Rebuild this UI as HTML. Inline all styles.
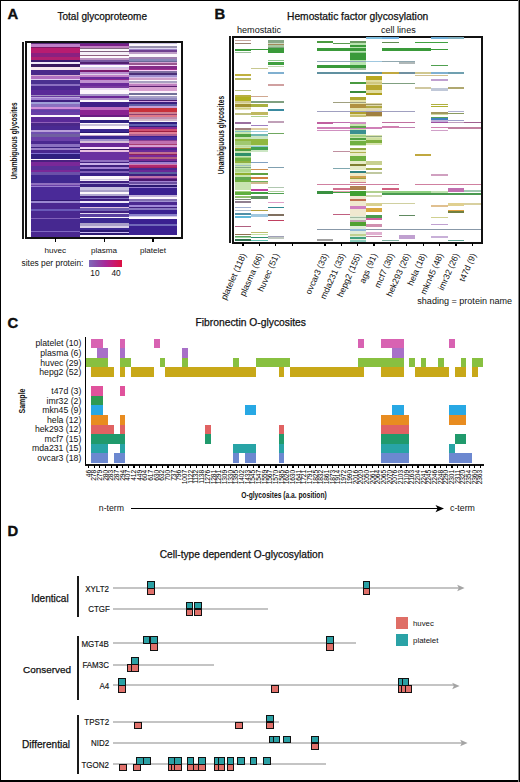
<!DOCTYPE html>
<html><head><meta charset="utf-8"><style>
html,body{margin:0;padding:0;background:#fff;}
#pg{position:relative;width:520px;height:782px;overflow:hidden;background:#fff;font-family:"Liberation Sans", sans-serif;color:#111;}
#frame{position:absolute;left:0;top:0;width:520px;height:782px;box-sizing:border-box;border-style:solid;border-color:#000;border-width:1px 1px 2px 1px;}
.t{position:absolute;white-space:nowrap;line-height:1;font-family:"Liberation Sans", sans-serif;}
.k{-webkit-text-stroke:0.25px #111;}
.b{font-weight:bold;-webkit-text-stroke:0.35px #000;}
.r{position:absolute;}
.rl{transform-origin:0 0;transform:rotate(-66deg) translate(-100%,0);}
.vl{transform-origin:0 0;transform:rotate(-90deg) translate(-100%,-50%);letter-spacing:-0.15px;color:#000;}
</style></head><body><div id="pg">
<div class="t b" style="left:7.6px;top:6.6px;font-size:14.8px;">A</div>
<div class="t k" style="left:57.5px;top:12.04px;font-size:10px;">Total glycoproteome</div>
<div class="r" style="left:22.00px;top:42.00px;width:2.00px;height:197.00px;background:#1a1a1a;"></div>
<div class="r" style="left:25.00px;top:41.00px;width:158.00px;height:198.00px;background:transparent;border:2px solid #111;box-sizing:border-box;"></div>
<div class="r" style="left:31px;top:43px;width:49.00px;height:194px;background:linear-gradient(to bottom,#5a2a7a 0.00%,#5a2a7a 0.77%,#c080c8 0.77%,#c080c8 2.06%,#801868 2.06%,#801868 2.73%,#b81c70 2.73%,#b81c70 5.41%,#8a2080 5.41%,#8a2080 7.01%,#b02070 7.01%,#b02070 8.61%,#3a1a70 8.61%,#3a1a70 9.69%,#f0e8f8 9.69%,#f0e8f8 10.82%,#3a1a60 10.82%,#3a1a60 12.16%,#f8e8f0 12.16%,#f8e8f0 13.81%,#4a2a8a 13.81%,#4a2a8a 16.29%,#d8b0d0 16.29%,#d8b0d0 16.96%,#b070c0 16.96%,#b070c0 18.45%,#e0d0f0 18.45%,#e0d0f0 19.07%,#4a3090 19.07%,#4a3090 20.88%,#8a70c0 20.88%,#8a70c0 22.16%,#4a2890 22.16%,#4a2890 24.23%,#5a2a98 24.23%,#5a2a98 26.55%,#a090c0 26.55%,#a090c0 27.22%,#6a3aa0 27.22%,#6a3aa0 27.84%,#c0a8e0 27.84%,#c0a8e0 28.35%,#a080d0 28.35%,#a080d0 29.18%,#402080 29.18%,#402080 30.67%,#a0a0d8 30.67%,#a0a0d8 31.44%,#8a70c0 31.44%,#8a70c0 32.78%,#d090d8 32.78%,#d090d8 33.97%,#7a40a8 33.97%,#7a40a8 34.43%,#6040a8 34.43%,#6040a8 35.41%,#6a40a8 35.41%,#6a40a8 37.11%,#fcf8fc 37.11%,#fcf8fc 38.09%,#5a2a98 38.09%,#5a2a98 40.72%,#9060b8 40.72%,#9060b8 41.34%,#4a2888 41.34%,#4a2888 42.68%,#4a2a92 42.68%,#4a2a92 44.64%,#b8a0d8 44.64%,#b8a0d8 45.67%,#7050b0 45.67%,#7050b0 46.96%,#7060a0 46.96%,#7060a0 48.30%,#6a40a8 48.30%,#6a40a8 50.31%,#4a2890 50.31%,#4a2890 51.96%,#8a70c0 51.96%,#8a70c0 53.61%,#3a2080 53.61%,#3a2080 54.23%,#9a80c8 54.23%,#9a80c8 55.05%,#4a2890 55.05%,#4a2890 56.55%,#8070d0 56.55%,#8070d0 57.22%,#302080 57.22%,#302080 59.54%,#fcf8fc 59.54%,#fcf8fc 60.31%,#4a2080 60.31%,#4a2080 61.34%,#7a2898 61.34%,#7a2898 63.45%,#5a3098 63.45%,#5a3098 65.46%,#7a2898 65.46%,#7a2898 66.75%,#6a50a8 66.75%,#6a50a8 68.09%,#402890 68.09%,#402890 72.06%,#9070c0 72.06%,#9070c0 73.35%,#6a40a8 73.35%,#6a40a8 73.81%,#9a80d0 73.81%,#9a80d0 74.33%,#4a2a98 74.33%,#4a2a98 81.08%,#301870 81.08%,#301870 81.44%,#9a88d0 81.44%,#9a88d0 82.47%,#4a2890 82.47%,#4a2890 85.36%,#6a5ab8 85.36%,#6a5ab8 86.60%,#4a2890 86.60%,#4a2890 90.21%,#8060b8 90.21%,#8060b8 90.82%,#462890 90.82%,#462890 96.65%,#8068c0 96.65%,#8068c0 97.68%,#4a2890 97.68%,#4a2890 100.00%);"></div>
<div class="r" style="left:80px;top:43px;width:49.00px;height:194px;background:linear-gradient(to bottom,#5a2a80 0.00%,#5a2a80 0.57%,#7a2088 0.57%,#7a2088 1.55%,#c080c0 1.55%,#c080c0 2.47%,#806880 2.47%,#806880 3.04%,#fcf8fc 3.04%,#fcf8fc 4.02%,#806080 4.02%,#806080 4.64%,#f4eef8 4.64%,#f4eef8 6.03%,#906080 6.03%,#906080 6.60%,#fcf8fc 6.60%,#fcf8fc 7.84%,#b890c0 7.84%,#b890c0 8.81%,#7a5aa0 8.81%,#7a5aa0 9.79%,#502070 9.79%,#502070 10.57%,#a070c0 10.57%,#a070c0 11.19%,#fcf8fc 11.19%,#fcf8fc 12.16%,#d0c8e8 12.16%,#d0c8e8 12.68%,#9090b8 12.68%,#9090b8 13.14%,#e0c0e0 13.14%,#e0c0e0 13.87%,#7a1a70 13.87%,#7a1a70 15.15%,#b890d0 15.15%,#b890d0 15.98%,#e0d0e8 15.98%,#e0d0e8 16.60%,#c080c8 16.60%,#c080c8 17.27%,#6a2a9a 17.27%,#6a2a9a 18.56%,#8a2a90 18.56%,#8a2a90 19.28%,#c090d0 19.28%,#c090d0 20.62%,#6a2a9a 20.62%,#6a2a9a 22.16%,#7a3aa0 22.16%,#7a3aa0 23.20%,#e8d8f0 23.20%,#e8d8f0 24.02%,#fcf8fc 24.02%,#fcf8fc 26.39%,#a898c8 26.39%,#a898c8 27.37%,#6a2898 27.37%,#6a2898 28.35%,#b090c8 28.35%,#b090c8 29.18%,#fcf8fc 29.18%,#fcf8fc 30.31%,#402088 30.31%,#402088 32.78%,#c070c0 32.78%,#c070c0 34.43%,#8a2090 34.43%,#8a2090 37.11%,#6a1a80 37.11%,#6a1a80 38.40%,#fcf8fc 38.40%,#fcf8fc 39.69%,#302080 39.69%,#302080 41.03%,#fcf8fc 41.03%,#fcf8fc 41.70%,#c8c0d8 41.70%,#c8c0d8 42.68%,#fcf8fc 42.68%,#fcf8fc 44.18%,#3a2890 44.18%,#3a2890 45.67%,#2a1870 45.67%,#2a1870 46.29%,#fcf8fc 46.29%,#fcf8fc 47.32%,#c0a0c8 47.32%,#c0a0c8 47.94%,#3a2890 47.94%,#3a2890 49.64%,#a090c8 49.64%,#a090c8 50.62%,#d8c0d8 50.62%,#d8c0d8 51.29%,#6a2898 51.29%,#6a2898 53.61%,#f8e0f8 53.61%,#f8e0f8 54.74%,#3a1a60 54.74%,#3a1a60 55.21%,#e8c0e0 55.21%,#e8c0e0 56.19%,#6a30a0 56.19%,#6a30a0 60.15%,#9070c0 60.15%,#9070c0 61.19%,#402080 61.19%,#402080 62.01%,#c8b0e8 62.01%,#c8b0e8 62.84%,#402080 62.84%,#402080 63.81%,#a080d0 63.81%,#a080d0 65.10%,#3a2080 65.10%,#3a2080 66.08%,#8060b8 66.08%,#8060b8 67.11%,#3a2088 67.11%,#3a2088 68.40%,#fcf8fc 68.40%,#fcf8fc 70.05%,#d0c8e0 70.05%,#d0c8e0 70.72%,#f0e8f8 70.72%,#f0e8f8 71.39%,#402080 71.39%,#402080 72.06%,#a090d0 72.06%,#a090d0 72.68%,#3a2080 72.68%,#3a2080 74.38%,#c8c0e0 74.38%,#c8c0e0 75.93%,#a8a0c8 75.93%,#a8a0c8 76.96%,#fcf8fc 76.96%,#fcf8fc 77.84%,#b0a8d0 77.84%,#b0a8d0 78.87%,#402080 78.87%,#402080 79.69%,#8070c0 79.69%,#8070c0 80.57%,#402080 80.57%,#402080 81.60%,#f0e8fa 81.60%,#f0e8fa 82.47%,#3a2090 82.47%,#3a2090 84.33%,#e0c0e0 84.33%,#e0c0e0 85.05%,#7060b0 85.05%,#7060b0 86.75%,#402080 86.75%,#402080 87.63%,#e0d8f0 87.63%,#e0d8f0 88.14%,#5a40a0 88.14%,#5a40a0 89.48%,#fcf8fc 89.48%,#fcf8fc 90.00%,#3a2890 90.00%,#3a2890 92.58%,#a8a0c8 92.58%,#a8a0c8 94.28%,#d8d0e8 94.28%,#d8d0e8 95.15%,#3a2890 95.15%,#3a2890 96.34%,#2a1870 96.34%,#2a1870 97.37%,#c8b8f0 97.37%,#c8b8f0 98.04%,#2a1870 98.04%,#2a1870 99.07%,#fcf8fc 99.07%,#fcf8fc 100.00%);"></div>
<div class="r" style="left:129px;top:43px;width:48.40px;height:194px;background:linear-gradient(to bottom,#c8c0e0 0.00%,#c8c0e0 0.36%,#fcf8fc 0.36%,#fcf8fc 1.65%,#9890b0 1.65%,#9890b0 2.47%,#e0d8f0 2.47%,#e0d8f0 3.14%,#a088c8 3.14%,#a088c8 3.76%,#704090 3.76%,#704090 4.85%,#c0a0c8 4.85%,#c0a0c8 5.82%,#fcf8fc 5.82%,#fcf8fc 7.42%,#a080b0 7.42%,#a080b0 8.20%,#8888b8 8.20%,#8888b8 9.38%,#6a6a98 9.38%,#6a6a98 9.79%,#d0a0d0 9.79%,#d0a0d0 10.46%,#985890 10.46%,#985890 11.19%,#f8d8f8 11.19%,#f8d8f8 11.75%,#842a88 11.75%,#842a88 13.35%,#a03090 13.35%,#a03090 13.97%,#f8d0f8 13.97%,#f8d0f8 14.64%,#8070a0 14.64%,#8070a0 15.62%,#4a3078 15.62%,#4a3078 16.29%,#a090d0 16.29%,#a090d0 17.27%,#d8c0e8 17.27%,#d8c0e8 17.94%,#d0a0c8 17.94%,#d0a0c8 18.92%,#fcf8fc 18.92%,#fcf8fc 19.59%,#a8a0c0 19.59%,#a8a0c0 20.57%,#e0c0e0 20.57%,#e0c0e0 21.24%,#c080c0 21.24%,#c080c0 22.22%,#5a2070 22.22%,#5a2070 22.89%,#d8a0d0 22.89%,#d8a0d0 24.54%,#fbf0fb 24.54%,#fbf0fb 25.72%,#707098 25.72%,#707098 27.01%,#fcf8fc 27.01%,#fcf8fc 27.53%,#a8a0c8 27.53%,#a8a0c8 28.20%,#9088c0 28.20%,#9088c0 29.18%,#4a1a70 29.18%,#4a1a70 29.85%,#d0a0e0 29.85%,#d0a0e0 30.67%,#3a2080 30.67%,#3a2080 31.29%,#6060a8 31.29%,#6060a8 32.47%,#c8a0d8 32.47%,#c8a0d8 33.30%,#8a3080 33.30%,#8a3080 33.76%,#c8303a 33.76%,#c8303a 35.77%,#d08090 35.77%,#d08090 36.44%,#904070 36.44%,#904070 36.91%,#e07888 36.91%,#e07888 38.40%,#c090b0 38.40%,#c090b0 39.07%,#d0b8c8 39.07%,#d0b8c8 40.05%,#fcf8fc 40.05%,#fcf8fc 40.72%,#302080 40.72%,#302080 41.70%,#6060b0 41.70%,#6060b0 42.68%,#302080 42.68%,#302080 43.35%,#8a2890 43.35%,#8a2890 44.33%,#d05070 44.33%,#d05070 45.31%,#a02040 45.31%,#a02040 45.98%,#e08098 45.98%,#e08098 46.96%,#b06090 46.96%,#b06090 47.78%,#3a2090 47.78%,#3a2090 48.61%,#4a30a0 48.61%,#4a30a0 50.00%,#8a4090 50.00%,#8a4090 50.77%,#c070b0 50.77%,#c070b0 51.96%,#a84070 51.96%,#a84070 52.78%,#d8a0d0 52.78%,#d8a0d0 53.40%,#8a2890 53.40%,#8a2890 54.38%,#4a2890 54.38%,#4a2890 55.41%,#6a2898 55.41%,#6a2898 56.39%,#c07090 56.39%,#c07090 57.22%,#902060 57.22%,#902060 57.89%,#7a2898 57.89%,#7a2898 59.02%,#b06080 59.02%,#b06080 60.00%,#7a2890 60.00%,#7a2890 60.82%,#402080 60.82%,#402080 61.49%,#a080d0 61.49%,#a080d0 62.16%,#d080b0 62.16%,#d080b0 62.99%,#b02870 62.99%,#b02870 63.66%,#a02060 63.66%,#a02060 64.43%,#4a2890 64.43%,#4a2890 65.46%,#6a2898 65.46%,#6a2898 66.75%,#5a60a0 66.75%,#5a60a0 67.42%,#402080 67.42%,#402080 68.40%,#c070a8 68.40%,#c070a8 69.38%,#7a3090 69.38%,#7a3090 70.21%,#4a1870 70.21%,#4a1870 70.88%,#a080d0 70.88%,#a080d0 71.70%,#6a50a0 71.70%,#6a50a0 72.68%,#b098d8 72.68%,#b098d8 73.35%,#2a1870 73.35%,#2a1870 74.02%,#9a80d0 74.02%,#9a80d0 74.59%,#3a2090 74.59%,#3a2090 78.14%,#c0b0d8 78.14%,#c0b0d8 79.54%,#fcf8fc 79.54%,#fcf8fc 80.41%,#8070b0 80.41%,#8070b0 81.24%,#a090d0 81.24%,#a090d0 81.96%,#4a2890 81.96%,#4a2890 83.51%,#a088d8 83.51%,#a088d8 84.33%,#402080 84.33%,#402080 85.05%,#8878c0 85.05%,#8878c0 86.24%,#3a2090 86.24%,#3a2090 88.14%,#8a80c8 88.14%,#8a80c8 89.33%,#d0c8e8 89.33%,#d0c8e8 89.85%,#fcf8fc 89.85%,#fcf8fc 90.52%,#3a2090 90.52%,#3a2090 93.25%,#7068b8 93.25%,#7068b8 94.28%,#3a2090 94.28%,#3a2090 99.07%,#fcf8fc 99.07%,#fcf8fc 100.00%);"></div>
<div class="r" style="left:54.90px;top:238.00px;width:1.20px;height:3.50px;background:#000;"></div>
<div class="r" style="left:103.90px;top:238.00px;width:1.20px;height:3.50px;background:#000;"></div>
<div class="r" style="left:152.40px;top:238.00px;width:1.20px;height:3.50px;background:#000;"></div>
<div class="t" style="left:44.5px;top:246.64px;font-size:8.1px;">huvec</div>
<div class="t" style="left:91px;top:246.64px;font-size:8.1px;">plasma</div>
<div class="t" style="left:140px;top:246.64px;font-size:8.1px;">platelet</div>
<div class="t" style="left:21.5px;top:258.99px;font-size:8.4px;">sites per protein:</div>
<div class="r" style="left:89px;top:260.3px;width:32.6px;height:7px;background:linear-gradient(to right,#8068b8,#8c48a8,#a82898,#c81870,#dc1040);"></div>
<div class="t" style="left:90.3px;top:269.17px;font-size:8.3px;">10</div>
<div class="t" style="left:111.5px;top:269.17px;font-size:8.3px;">40</div>
<div class="t" style="left:14px;top:140.8px;font-size:9.6px;transform:translate(-50%,-50%) rotate(-90deg) scaleX(0.68);font-weight:bold;white-space:nowrap;">Unambiguous glycosites</div>
<div class="t b" style="left:214.6px;top:6.5px;font-size:14.8px;">B</div>
<div class="t k" style="left:287px;top:12.12px;font-size:10.25px;">Hemostatic factor glycosylation</div>
<div class="t" style="left:237px;top:25.60px;font-size:9.1px;">hemostatic</div>
<div class="t" style="left:381px;top:25.64px;font-size:9.05px;">cell lines</div>
<div class="r" style="left:228.50px;top:36.00px;width:2.00px;height:207.00px;background:#1a1a1a;"></div>
<div class="r" style="left:232.00px;top:36.00px;width:251.00px;height:208.00px;background:transparent;border:2px solid #111;box-sizing:border-box;"></div>
<div class="r" style="left:234.90px;top:96.00px;width:16.38px;height:14.00px;background:#e4e0b0;"></div>
<div class="r" style="left:234.90px;top:128.00px;width:16.38px;height:62.00px;background:#c8e4b0;"></div>
<div class="r" style="left:251.28px;top:134.00px;width:16.38px;height:18.00px;background:#cce6c4;"></div>
<div class="r" style="left:349.56px;top:41.00px;width:16.38px;height:29.00px;background:#b8e4b0;"></div>
<div class="r" style="left:349.56px;top:96.50px;width:16.38px;height:20.50px;background:#e4e0a8;"></div>
<div class="r" style="left:349.56px;top:123.50px;width:16.38px;height:22.50px;background:#c8e4b0;"></div>
<div class="r" style="left:365.94px;top:75.70px;width:16.38px;height:19.70px;background:#e0dca0;"></div>
<div class="r" style="left:349.56px;top:150.00px;width:16.38px;height:20.00px;background:#e8ecc8;"></div>
<div class="r" style="left:349.56px;top:172.70px;width:16.38px;height:10.30px;background:#f0e8c8;"></div>
<div class="r" style="left:349.56px;top:196.00px;width:16.38px;height:20.00px;background:#f0e8d0;"></div>
<div class="r" style="left:349.56px;top:216.00px;width:16.38px;height:26.00px;background:#e0ecd8;"></div>
<div class="r" style="left:365.94px;top:102.80px;width:16.38px;height:14.20px;background:#e0d8b0;"></div>
<div class="r" style="left:365.94px;top:135.00px;width:16.38px;height:10.00px;background:#d8e4b0;"></div>
<div class="r" style="left:234.90px;top:39.60px;width:16.38px;height:1.10px;background:#c8a8a0;"></div>
<div class="r" style="left:234.90px;top:43.00px;width:16.38px;height:1.30px;background:#9a8070;"></div>
<div class="r" style="left:234.90px;top:48.70px;width:16.38px;height:2.00px;background:#3a9a3a;"></div>
<div class="r" style="left:251.28px;top:48.90px;width:16.38px;height:1.10px;background:#3a9a3a;"></div>
<div class="r" style="left:234.90px;top:51.80px;width:16.38px;height:1.30px;background:#a0c0a0;"></div>
<div class="r" style="left:234.90px;top:73.60px;width:16.38px;height:2.10px;background:#c0b040;"></div>
<div class="r" style="left:234.90px;top:78.40px;width:16.38px;height:1.20px;background:#b8b860;"></div>
<div class="r" style="left:251.28px;top:68.20px;width:16.38px;height:1.10px;background:#c8c890;"></div>
<div class="r" style="left:267.66px;top:40.00px;width:16.38px;height:2.70px;background:#88a888;"></div>
<div class="r" style="left:267.66px;top:42.70px;width:16.38px;height:0.90px;background:#c8d8c0;"></div>
<div class="r" style="left:267.66px;top:43.60px;width:16.38px;height:1.60px;background:#a08858;"></div>
<div class="r" style="left:267.66px;top:45.20px;width:16.38px;height:1.80px;background:#a8c8a0;"></div>
<div class="r" style="left:267.66px;top:47.00px;width:16.38px;height:1.00px;background:#80a880;"></div>
<div class="r" style="left:267.66px;top:48.00px;width:16.38px;height:5.10px;background:#3a9a3a;"></div>
<div class="r" style="left:267.66px;top:59.90px;width:16.38px;height:1.50px;background:#90c890;"></div>
<div class="r" style="left:267.66px;top:62.00px;width:16.38px;height:2.90px;background:#40a040;"></div>
<div class="r" style="left:267.66px;top:66.10px;width:16.38px;height:1.30px;background:#c0d8b0;"></div>
<div class="r" style="left:267.66px;top:71.80px;width:16.38px;height:2.10px;background:#80b0d0;"></div>
<div class="r" style="left:267.66px;top:84.30px;width:16.38px;height:1.30px;background:#d0a0a0;"></div>
<div class="r" style="left:234.90px;top:90.20px;width:16.38px;height:1.20px;background:#b8c080;"></div>
<div class="r" style="left:234.90px;top:95.30px;width:16.38px;height:1.60px;background:#b8b040;"></div>
<div class="r" style="left:234.90px;top:97.40px;width:16.38px;height:3.60px;background:#b0b020;"></div>
<div class="r" style="left:234.90px;top:101.00px;width:16.38px;height:2.10px;background:#d0c890;"></div>
<div class="r" style="left:234.90px;top:104.20px;width:16.38px;height:2.60px;background:#a09030;"></div>
<div class="r" style="left:234.90px;top:107.80px;width:16.38px;height:1.60px;background:#d0d080;"></div>
<div class="r" style="left:234.90px;top:113.20px;width:16.38px;height:1.40px;background:#c0c080;"></div>
<div class="r" style="left:234.90px;top:121.80px;width:16.38px;height:2.10px;background:#9a70a0;"></div>
<div class="r" style="left:234.90px;top:128.00px;width:16.38px;height:1.60px;background:#a08080;"></div>
<div class="r" style="left:234.90px;top:131.20px;width:16.38px;height:1.00px;background:#80c0c0;"></div>
<div class="r" style="left:234.90px;top:134.00px;width:16.38px;height:3.00px;background:#50a040;"></div>
<div class="r" style="left:251.28px;top:96.20px;width:16.38px;height:1.20px;background:#d0a890;"></div>
<div class="r" style="left:251.28px;top:101.40px;width:32.76px;height:1.20px;background:#80a080;"></div>
<div class="r" style="left:251.28px;top:104.20px;width:16.38px;height:3.10px;background:#a8b040;"></div>
<div class="r" style="left:251.28px;top:112.00px;width:16.38px;height:2.60px;background:#c0b860;"></div>
<div class="r" style="left:251.28px;top:116.10px;width:16.38px;height:1.30px;background:#b0d090;"></div>
<div class="r" style="left:251.28px;top:124.60px;width:16.38px;height:1.30px;background:#a080c0;"></div>
<div class="r" style="left:251.28px;top:128.00px;width:16.38px;height:1.60px;background:#e0d0a0;"></div>
<div class="r" style="left:251.28px;top:130.70px;width:16.38px;height:1.50px;background:#a0d0e0;"></div>
<div class="r" style="left:251.28px;top:134.00px;width:16.38px;height:2.40px;background:#70b8b0;"></div>
<div class="r" style="left:267.66px;top:109.40px;width:16.38px;height:2.00px;background:#3a8aa0;"></div>
<div class="r" style="left:267.66px;top:121.30px;width:16.38px;height:1.60px;background:#c0a0b8;"></div>
<div class="r" style="left:267.66px;top:133.20px;width:16.38px;height:1.10px;background:#70a860;"></div>
<div class="r" style="left:234.90px;top:139.10px;width:16.38px;height:2.10px;background:#90b840;"></div>
<div class="r" style="left:234.90px;top:141.20px;width:16.38px;height:3.60px;background:#a0c870;"></div>
<div class="r" style="left:234.90px;top:145.90px;width:16.38px;height:1.50px;background:#c0d8a0;"></div>
<div class="r" style="left:234.90px;top:148.00px;width:16.38px;height:1.00px;background:#a0a030;"></div>
<div class="r" style="left:234.90px;top:149.00px;width:16.38px;height:2.00px;background:#50a040;"></div>
<div class="r" style="left:234.90px;top:153.10px;width:16.38px;height:3.10px;background:#30906a;"></div>
<div class="r" style="left:234.90px;top:157.30px;width:16.38px;height:1.00px;background:#a0d080;"></div>
<div class="r" style="left:234.90px;top:158.30px;width:16.38px;height:2.60px;background:#70b040;"></div>
<div class="r" style="left:234.90px;top:161.40px;width:16.38px;height:2.10px;background:#90b040;"></div>
<div class="r" style="left:234.90px;top:164.60px;width:16.38px;height:1.50px;background:#a0c0c0;"></div>
<div class="r" style="left:234.90px;top:166.60px;width:16.38px;height:1.60px;background:#80a880;"></div>
<div class="r" style="left:234.90px;top:169.20px;width:16.38px;height:2.60px;background:#b0d890;"></div>
<div class="r" style="left:234.90px;top:172.90px;width:16.38px;height:2.60px;background:#90b030;"></div>
<div class="r" style="left:234.90px;top:176.50px;width:16.38px;height:3.10px;background:#60a850;"></div>
<div class="r" style="left:234.90px;top:180.10px;width:16.38px;height:2.10px;background:#70b040;"></div>
<div class="r" style="left:251.28px;top:139.10px;width:16.38px;height:5.70px;background:#90b840;"></div>
<div class="r" style="left:251.28px;top:145.90px;width:16.38px;height:1.00px;background:#90c8d8;"></div>
<div class="r" style="left:251.28px;top:146.90px;width:16.38px;height:3.60px;background:#40a050;"></div>
<div class="r" style="left:251.28px;top:162.00px;width:16.38px;height:1.20px;background:#80a0c0;"></div>
<div class="r" style="left:251.28px;top:169.20px;width:16.38px;height:1.10px;background:#d09050;"></div>
<div class="r" style="left:251.28px;top:173.40px;width:16.38px;height:1.60px;background:#60a040;"></div>
<div class="r" style="left:251.28px;top:177.00px;width:16.38px;height:1.60px;background:#d08040;"></div>
<div class="r" style="left:251.28px;top:180.70px;width:16.38px;height:1.50px;background:#70b060;"></div>
<div class="r" style="left:251.28px;top:182.20px;width:16.38px;height:1.60px;background:#d0b890;"></div>
<div class="r" style="left:267.66px;top:167.20px;width:16.38px;height:1.20px;background:#80a0b0;"></div>
<div class="r" style="left:267.66px;top:186.90px;width:16.38px;height:1.40px;background:#b0c8b0;"></div>
<div class="r" style="left:234.90px;top:190.70px;width:16.38px;height:1.00px;background:#a0d080;"></div>
<div class="r" style="left:234.90px;top:191.70px;width:16.38px;height:3.10px;background:#60b040;"></div>
<div class="r" style="left:234.90px;top:196.40px;width:16.38px;height:1.20px;background:#90c070;"></div>
<div class="r" style="left:234.90px;top:198.50px;width:16.38px;height:1.50px;background:#809080;"></div>
<div class="r" style="left:234.90px;top:201.40px;width:16.38px;height:1.70px;background:#908090;"></div>
<div class="r" style="left:234.90px;top:206.80px;width:16.38px;height:1.00px;background:#a0b0d0;"></div>
<div class="r" style="left:234.90px;top:209.70px;width:16.38px;height:1.00px;background:#b0c0d0;"></div>
<div class="r" style="left:234.90px;top:213.20px;width:16.38px;height:1.40px;background:#5090a8;"></div>
<div class="r" style="left:234.90px;top:216.10px;width:16.38px;height:1.60px;background:#60b8d8;"></div>
<div class="r" style="left:234.90px;top:225.70px;width:16.38px;height:1.00px;background:#b06080;"></div>
<div class="r" style="left:234.90px;top:233.80px;width:16.38px;height:1.50px;background:#907050;"></div>
<div class="r" style="left:234.90px;top:235.60px;width:16.38px;height:1.30px;background:#60a060;"></div>
<div class="r" style="left:234.90px;top:237.40px;width:16.38px;height:1.00px;background:#a0d8a0;"></div>
<div class="r" style="left:234.90px;top:239.00px;width:16.38px;height:1.50px;background:#307050;"></div>
<div class="r" style="left:251.28px;top:188.60px;width:16.38px;height:2.40px;background:#c040a0;"></div>
<div class="r" style="left:251.28px;top:192.20px;width:16.38px;height:1.60px;background:#40a040;"></div>
<div class="r" style="left:251.28px;top:196.40px;width:16.38px;height:2.60px;background:#609060;"></div>
<div class="r" style="left:251.28px;top:210.10px;width:16.38px;height:1.00px;background:#b0a040;"></div>
<div class="r" style="left:251.28px;top:214.00px;width:16.38px;height:3.20px;background:#a0c8e0;"></div>
<div class="r" style="left:251.28px;top:231.70px;width:16.38px;height:1.00px;background:#c0c070;"></div>
<div class="r" style="left:251.28px;top:233.60px;width:16.38px;height:1.70px;background:#c0e0a0;"></div>
<div class="r" style="left:251.28px;top:236.90px;width:16.38px;height:1.50px;background:#309070;"></div>
<div class="r" style="left:251.28px;top:239.50px;width:16.38px;height:1.50px;background:#60c0b0;"></div>
<div class="r" style="left:267.66px;top:190.70px;width:16.38px;height:1.00px;background:#b0d0a0;"></div>
<div class="r" style="left:267.66px;top:192.70px;width:16.38px;height:1.60px;background:#50a050;"></div>
<div class="r" style="left:267.66px;top:201.60px;width:16.38px;height:1.00px;background:#e0a0c8;"></div>
<div class="r" style="left:267.66px;top:206.80px;width:16.38px;height:1.20px;background:#308890;"></div>
<div class="r" style="left:267.66px;top:214.20px;width:16.38px;height:1.70px;background:#807060;"></div>
<div class="r" style="left:267.66px;top:219.70px;width:16.38px;height:1.40px;background:#c04060;"></div>
<div class="r" style="left:267.66px;top:235.60px;width:16.38px;height:1.50px;background:#a0a0b8;"></div>
<div class="r" style="left:267.66px;top:237.40px;width:16.38px;height:2.10px;background:#c0c8c0;"></div>
<div class="r" style="left:365.94px;top:37.30px;width:16.38px;height:2.10px;background:#80c0e0;"></div>
<div class="r" style="left:316.80px;top:41.40px;width:16.38px;height:2.00px;background:#4a9a40;"></div>
<div class="r" style="left:333.18px;top:42.70px;width:16.38px;height:0.90px;background:#5a9a50;"></div>
<div class="r" style="left:349.56px;top:41.10px;width:16.38px;height:1.60px;background:#6a9a60;"></div>
<div class="r" style="left:349.56px;top:44.70px;width:16.38px;height:2.70px;background:#3a9a3a;"></div>
<div class="r" style="left:316.80px;top:48.10px;width:49.14px;height:2.70px;background:#3a9a3a;"></div>
<div class="r" style="left:349.56px;top:51.50px;width:16.38px;height:1.30px;background:#90c890;"></div>
<div class="r" style="left:349.56px;top:52.80px;width:16.38px;height:6.80px;background:#3a9a3a;"></div>
<div class="r" style="left:316.80px;top:60.90px;width:49.14px;height:1.30px;background:#90a8b8;"></div>
<div class="r" style="left:365.94px;top:60.90px;width:16.38px;height:1.30px;background:#a0c8e0;"></div>
<div class="r" style="left:316.80px;top:64.50px;width:49.14px;height:3.10px;background:#3a9a3a;"></div>
<div class="r" style="left:349.56px;top:68.30px;width:16.38px;height:1.30px;background:#a0c0a0;"></div>
<div class="r" style="left:316.80px;top:72.30px;width:65.52px;height:1.40px;background:#6090a0;"></div>
<div class="r" style="left:365.94px;top:75.70px;width:16.38px;height:4.70px;background:#b8a820;"></div>
<div class="r" style="left:349.56px;top:81.80px;width:16.38px;height:2.00px;background:#4a9a40;"></div>
<div class="r" style="left:365.94px;top:81.80px;width:16.38px;height:2.00px;background:#d0c880;"></div>
<div class="r" style="left:365.94px;top:84.50px;width:16.38px;height:5.50px;background:#b8a830;"></div>
<div class="r" style="left:349.56px;top:91.40px;width:16.38px;height:1.70px;background:#3a8a3a;"></div>
<div class="r" style="left:365.94px;top:92.70px;width:16.38px;height:2.70px;background:#b0a020;"></div>
<div class="r" style="left:349.56px;top:97.40px;width:16.38px;height:2.70px;background:#b0a830;"></div>
<div class="r" style="left:333.18px;top:101.50px;width:32.76px;height:0.90px;background:#a0a080;"></div>
<div class="r" style="left:349.56px;top:104.20px;width:16.38px;height:4.00px;background:#b09040;"></div>
<div class="r" style="left:365.94px;top:103.50px;width:16.38px;height:1.30px;background:#a09860;"></div>
<div class="r" style="left:365.94px;top:105.50px;width:16.38px;height:2.00px;background:#b0a840;"></div>
<div class="r" style="left:316.80px;top:110.60px;width:98.28px;height:1.00px;background:#a0a0c0;"></div>
<div class="r" style="left:349.56px;top:112.20px;width:16.38px;height:2.00px;background:#b0a030;"></div>
<div class="r" style="left:365.94px;top:112.20px;width:16.38px;height:4.10px;background:#a08040;"></div>
<div class="r" style="left:349.56px;top:114.90px;width:16.38px;height:2.00px;background:#c8c070;"></div>
<div class="r" style="left:316.80px;top:121.60px;width:16.38px;height:2.70px;background:#c060a0;"></div>
<div class="r" style="left:333.18px;top:121.60px;width:16.38px;height:0.90px;background:#c070b0;"></div>
<div class="r" style="left:349.56px;top:121.60px;width:16.38px;height:2.70px;background:#d090c0;"></div>
<div class="r" style="left:316.80px;top:127.00px;width:65.52px;height:1.60px;background:#d080b8;"></div>
<div class="r" style="left:349.56px;top:125.70px;width:16.38px;height:2.70px;background:#60a050;"></div>
<div class="r" style="left:316.80px;top:130.00px;width:49.14px;height:0.90px;background:#d090c0;"></div>
<div class="r" style="left:349.56px;top:130.40px;width:16.38px;height:3.40px;background:#3a9090;"></div>
<div class="r" style="left:349.56px;top:135.10px;width:16.38px;height:2.00px;background:#a0d080;"></div>
<div class="r" style="left:365.94px;top:135.50px;width:16.38px;height:1.00px;background:#90a880;"></div>
<div class="r" style="left:349.56px;top:137.80px;width:16.38px;height:2.00px;background:#50a040;"></div>
<div class="r" style="left:365.94px;top:137.80px;width:16.38px;height:2.70px;background:#d0e0a0;"></div>
<div class="r" style="left:349.56px;top:140.50px;width:16.38px;height:4.20px;background:#70b040;"></div>
<div class="r" style="left:365.94px;top:140.00px;width:16.38px;height:3.40px;background:#80b040;"></div>
<div class="r" style="left:349.56px;top:148.10px;width:16.38px;height:1.60px;background:#90a840;"></div>
<div class="r" style="left:333.18px;top:151.40px;width:16.38px;height:0.90px;background:#c090a0;"></div>
<div class="r" style="left:349.56px;top:152.10px;width:16.38px;height:1.40px;background:#b0b050;"></div>
<div class="r" style="left:349.56px;top:156.20px;width:16.38px;height:4.70px;background:#70b040;"></div>
<div class="r" style="left:365.94px;top:160.90px;width:16.38px;height:4.00px;background:#c8d090;"></div>
<div class="r" style="left:349.56px;top:164.00px;width:16.38px;height:1.80px;background:#808030;"></div>
<div class="r" style="left:333.18px;top:167.60px;width:16.38px;height:0.90px;background:#80a8b0;"></div>
<div class="r" style="left:365.94px;top:168.30px;width:16.38px;height:1.60px;background:#a8b050;"></div>
<div class="r" style="left:349.56px;top:170.70px;width:16.38px;height:2.00px;background:#308080;"></div>
<div class="r" style="left:365.94px;top:172.30px;width:16.38px;height:1.30px;background:#c0c8a0;"></div>
<div class="r" style="left:349.56px;top:175.70px;width:16.38px;height:2.00px;background:#d0a050;"></div>
<div class="r" style="left:349.56px;top:178.40px;width:16.38px;height:0.90px;background:#a0a040;"></div>
<div class="r" style="left:349.56px;top:181.70px;width:16.38px;height:1.40px;background:#d08090;"></div>
<div class="r" style="left:316.80px;top:183.70px;width:81.90px;height:1.80px;background:#d080a0;"></div>
<div class="r" style="left:415.08px;top:183.70px;width:65.52px;height:1.80px;background:#d080a0;"></div>
<div class="r" style="left:333.18px;top:187.80px;width:16.38px;height:2.70px;background:#d07090;"></div>
<div class="r" style="left:349.56px;top:185.80px;width:16.38px;height:4.70px;background:#b08050;"></div>
<div class="r" style="left:316.80px;top:190.50px;width:16.38px;height:3.50px;background:#3a9040;"></div>
<div class="r" style="left:333.18px;top:190.50px;width:16.38px;height:1.00px;background:#e0a0b0;"></div>
<div class="r" style="left:333.18px;top:192.00px;width:32.76px;height:1.40px;background:#40a040;"></div>
<div class="r" style="left:349.56px;top:190.50px;width:16.38px;height:5.50px;background:#40a030;"></div>
<div class="r" style="left:365.94px;top:191.30px;width:16.38px;height:1.40px;background:#b0d090;"></div>
<div class="r" style="left:365.94px;top:194.70px;width:16.38px;height:2.70px;background:#d0d8b0;"></div>
<div class="r" style="left:349.56px;top:199.40px;width:16.38px;height:1.60px;background:#c07050;"></div>
<div class="r" style="left:365.94px;top:202.80px;width:16.38px;height:3.40px;background:#d8d090;"></div>
<div class="r" style="left:349.56px;top:206.20px;width:16.38px;height:3.30px;background:#d080c0;"></div>
<div class="r" style="left:365.94px;top:207.50px;width:16.38px;height:4.70px;background:#d8a840;"></div>
<div class="r" style="left:333.18px;top:214.00px;width:16.38px;height:0.90px;background:#c06080;"></div>
<div class="r" style="left:365.94px;top:214.90px;width:16.38px;height:2.70px;background:#4a9a50;"></div>
<div class="r" style="left:365.94px;top:217.60px;width:16.38px;height:2.30px;background:#d060a0;"></div>
<div class="r" style="left:349.56px;top:216.90px;width:16.38px;height:1.60px;background:#a0b8a0;"></div>
<div class="r" style="left:349.56px;top:220.30px;width:16.38px;height:2.00px;background:#c0a0b0;"></div>
<div class="r" style="left:349.56px;top:222.30px;width:16.38px;height:3.40px;background:#50a030;"></div>
<div class="r" style="left:365.94px;top:223.60px;width:16.38px;height:3.40px;background:#d090b0;"></div>
<div class="r" style="left:316.80px;top:229.00px;width:163.80px;height:1.00px;background:#8898a8;"></div>
<div class="r" style="left:349.56px;top:229.00px;width:16.38px;height:2.00px;background:#90b8d8;"></div>
<div class="r" style="left:365.94px;top:231.70px;width:16.38px;height:3.40px;background:#e0b0d0;"></div>
<div class="r" style="left:365.94px;top:235.80px;width:16.38px;height:1.30px;background:#c080a0;"></div>
<div class="r" style="left:349.56px;top:233.70px;width:16.38px;height:2.10px;background:#c0d090;"></div>
<div class="r" style="left:349.56px;top:237.10px;width:16.38px;height:1.60px;background:#40a080;"></div>
<div class="r" style="left:316.80px;top:239.10px;width:16.38px;height:1.80px;background:#a0a0a0;"></div>
<div class="r" style="left:349.56px;top:240.00px;width:16.38px;height:1.80px;background:#90d0c0;"></div>
<div class="r" style="left:382.32px;top:37.00px;width:16.38px;height:1.70px;background:#70b0e0;"></div>
<div class="r" style="left:431.46px;top:37.00px;width:16.38px;height:2.40px;background:#70b0d8;"></div>
<div class="r" style="left:382.32px;top:41.70px;width:16.38px;height:1.30px;background:#608a50;"></div>
<div class="r" style="left:415.08px;top:42.00px;width:32.76px;height:1.40px;background:#40a040;"></div>
<div class="r" style="left:382.32px;top:48.10px;width:49.14px;height:2.70px;background:#3a9a3a;"></div>
<div class="r" style="left:431.46px;top:48.80px;width:16.38px;height:0.90px;background:#3a9a3a;"></div>
<div class="r" style="left:382.32px;top:60.90px;width:32.76px;height:1.30px;background:#90a8b0;"></div>
<div class="r" style="left:398.70px;top:62.20px;width:16.38px;height:1.40px;background:#b0b8b8;"></div>
<div class="r" style="left:431.46px;top:64.50px;width:16.38px;height:1.40px;background:#50a050;"></div>
<div class="r" style="left:382.32px;top:71.70px;width:16.38px;height:2.00px;background:#c0a840;"></div>
<div class="r" style="left:398.70px;top:72.30px;width:16.38px;height:1.40px;background:#7090a0;"></div>
<div class="r" style="left:415.08px;top:72.00px;width:16.38px;height:1.70px;background:#d0c890;"></div>
<div class="r" style="left:431.46px;top:71.70px;width:16.38px;height:2.00px;background:#80b0d0;"></div>
<div class="r" style="left:415.08px;top:75.00px;width:32.76px;height:1.40px;background:#d0c090;"></div>
<div class="r" style="left:431.46px;top:79.10px;width:16.38px;height:1.60px;background:#c0a0d0;"></div>
<div class="r" style="left:382.32px;top:82.80px;width:32.76px;height:1.00px;background:#80a080;"></div>
<div class="r" style="left:415.08px;top:86.90px;width:16.38px;height:2.10px;background:#d0c8a0;"></div>
<div class="r" style="left:431.46px;top:87.80px;width:16.38px;height:2.90px;background:#c0c8d8;"></div>
<div class="r" style="left:431.46px;top:103.50px;width:16.38px;height:1.30px;background:#b0b040;"></div>
<div class="r" style="left:431.46px;top:106.20px;width:16.38px;height:1.30px;background:#b0b030;"></div>
<div class="r" style="left:431.46px;top:111.60px;width:16.38px;height:2.00px;background:#a09860;"></div>
<div class="r" style="left:431.46px;top:113.60px;width:16.38px;height:1.30px;background:#d0d8a0;"></div>
<div class="r" style="left:431.46px;top:116.90px;width:16.38px;height:1.40px;background:#50a060;"></div>
<div class="r" style="left:431.46px;top:118.30px;width:16.38px;height:1.70px;background:#4080c0;"></div>
<div class="r" style="left:382.32px;top:122.30px;width:32.76px;height:0.90px;background:#c070a0;"></div>
<div class="r" style="left:431.46px;top:120.30px;width:16.38px;height:1.30px;background:#c0b0d8;"></div>
<div class="r" style="left:431.46px;top:121.90px;width:16.38px;height:1.40px;background:#a050a0;"></div>
<div class="r" style="left:382.32px;top:126.40px;width:16.38px;height:1.30px;background:#d080b0;"></div>
<div class="r" style="left:398.70px;top:127.00px;width:16.38px;height:1.00px;background:#c080b0;"></div>
<div class="r" style="left:431.46px;top:127.00px;width:16.38px;height:1.40px;background:#d080b0;"></div>
<div class="r" style="left:431.46px;top:130.00px;width:16.38px;height:1.00px;background:#d0a0c8;"></div>
<div class="r" style="left:415.08px;top:154.10px;width:16.38px;height:1.80px;background:#c0a840;"></div>
<div class="r" style="left:431.46px;top:174.30px;width:16.38px;height:1.40px;background:#d0a0c0;"></div>
<div class="r" style="left:382.32px;top:187.80px;width:16.38px;height:2.00px;background:#d06080;"></div>
<div class="r" style="left:382.32px;top:190.50px;width:49.14px;height:2.50px;background:#90d080;"></div>
<div class="r" style="left:382.32px;top:193.00px;width:98.28px;height:1.60px;background:#4a9a50;"></div>
<div class="r" style="left:431.46px;top:190.50px;width:16.38px;height:2.50px;background:#c0e0b0;"></div>
<div class="r" style="left:382.32px;top:202.80px;width:32.76px;height:1.70px;background:#d0d0a0;"></div>
<div class="r" style="left:431.46px;top:204.80px;width:16.38px;height:2.00px;background:#e0c090;"></div>
<div class="r" style="left:398.70px;top:214.90px;width:16.38px;height:0.90px;background:#608a60;"></div>
<div class="r" style="left:431.46px;top:216.90px;width:16.38px;height:1.60px;background:#d0d090;"></div>
<div class="r" style="left:431.46px;top:223.60px;width:16.38px;height:1.10px;background:#c0a0d0;"></div>
<div class="r" style="left:398.70px;top:235.10px;width:16.38px;height:4.00px;background:#c0a0d0;"></div>
<div class="r" style="left:431.46px;top:236.40px;width:16.38px;height:2.10px;background:#c8b0d8;"></div>
<div class="r" style="left:382.32px;top:239.80px;width:16.38px;height:1.30px;background:#80b0a0;"></div>
<div class="r" style="left:447.84px;top:37.30px;width:16.38px;height:1.40px;background:#80b0c0;"></div>
<div class="r" style="left:447.84px;top:72.30px;width:16.38px;height:1.30px;background:#70a0b0;"></div>
<div class="r" style="left:447.84px;top:87.00px;width:16.38px;height:1.80px;background:#b0a870;"></div>
<div class="r" style="left:447.84px;top:110.70px;width:16.38px;height:0.90px;background:#b0b0d0;"></div>
<div class="r" style="left:447.84px;top:113.00px;width:16.38px;height:1.30px;background:#8a9a60;"></div>
<div class="r" style="left:447.84px;top:120.10px;width:16.38px;height:0.90px;background:#a0a0c8;"></div>
<div class="r" style="left:447.84px;top:121.50px;width:16.38px;height:1.30px;background:#c0a0c0;"></div>
<div class="r" style="left:464.22px;top:122.00px;width:16.38px;height:0.90px;background:#a06090;"></div>
<div class="r" style="left:447.84px;top:127.10px;width:32.76px;height:1.50px;background:#c080a0;"></div>
<div class="r" style="left:447.84px;top:188.10px;width:16.38px;height:3.70px;background:#c070b0;"></div>
<div class="r" style="left:464.22px;top:190.40px;width:16.38px;height:1.40px;background:#a0c8b0;"></div>
<div class="r" style="left:447.84px;top:203.30px;width:16.38px;height:3.20px;background:#e0d090;"></div>
<div class="r" style="left:464.22px;top:203.30px;width:16.38px;height:1.40px;background:#d8d0a0;"></div>
<div class="r" style="left:447.84px;top:210.20px;width:16.38px;height:0.90px;background:#e0a040;"></div>
<div class="r" style="left:447.84px;top:211.10px;width:16.38px;height:2.30px;background:#708040;"></div>
<div class="r" style="left:447.84px;top:240.10px;width:16.38px;height:1.00px;background:#60a090;"></div>
<div class="r" style="left:242.45px;top:242.80px;width:1.20px;height:3.30px;background:#000;"></div>
<div class="r" style="left:258.83px;top:242.80px;width:1.20px;height:3.30px;background:#000;"></div>
<div class="r" style="left:275.21px;top:242.80px;width:1.20px;height:3.30px;background:#000;"></div>
<div class="r" style="left:291.59px;top:242.80px;width:1.20px;height:3.30px;background:#000;"></div>
<div class="r" style="left:324.35px;top:242.80px;width:1.20px;height:3.30px;background:#000;"></div>
<div class="r" style="left:340.73px;top:242.80px;width:1.20px;height:3.30px;background:#000;"></div>
<div class="r" style="left:357.11px;top:242.80px;width:1.20px;height:3.30px;background:#000;"></div>
<div class="r" style="left:373.49px;top:242.80px;width:1.20px;height:3.30px;background:#000;"></div>
<div class="r" style="left:389.87px;top:242.80px;width:1.20px;height:3.30px;background:#000;"></div>
<div class="r" style="left:406.25px;top:242.80px;width:1.20px;height:3.30px;background:#000;"></div>
<div class="r" style="left:422.63px;top:242.80px;width:1.20px;height:3.30px;background:#000;"></div>
<div class="r" style="left:439.01px;top:242.80px;width:1.20px;height:3.30px;background:#000;"></div>
<div class="r" style="left:455.39px;top:242.80px;width:1.20px;height:3.30px;background:#000;"></div>
<div class="r" style="left:471.77px;top:242.80px;width:1.20px;height:3.30px;background:#000;"></div>
<div class="t rl" style="left:240.25px;top:252.2px;font-size:8.7px;">platelet (118)</div>
<div class="t rl" style="left:256.63px;top:252.2px;font-size:8.7px;">plasma (66)</div>
<div class="t rl" style="left:273.01px;top:252.2px;font-size:8.7px;">huvec (51)</div>
<div class="t rl" style="left:322.15px;top:252.2px;font-size:8.7px;">ovcar3 (33)</div>
<div class="t rl" style="left:338.53px;top:252.2px;font-size:8.7px;">mda231 (33)</div>
<div class="t rl" style="left:354.91px;top:252.2px;font-size:8.7px;">hepg2 (155)</div>
<div class="t rl" style="left:371.29px;top:252.2px;font-size:8.7px;">ags (91)</div>
<div class="t rl" style="left:387.67px;top:252.2px;font-size:8.7px;">mcf7 (30)</div>
<div class="t rl" style="left:404.05px;top:252.2px;font-size:8.7px;">hek293 (26)</div>
<div class="t rl" style="left:420.43px;top:252.2px;font-size:8.7px;">hela (18)</div>
<div class="t rl" style="left:436.81px;top:252.2px;font-size:8.7px;">mkn45 (48)</div>
<div class="t rl" style="left:453.19px;top:252.2px;font-size:8.7px;">imr32 (26)</div>
<div class="t rl" style="left:469.57px;top:252.2px;font-size:8.7px;">t47d (9)</div>
<div class="t" style="left:417.3px;top:296.54px;font-size:9.05px;">shading = protein name</div>
<div class="t" style="left:221px;top:134.5px;font-size:9.6px;transform:translate(-50%,-50%) rotate(-90deg) scaleX(0.69);font-weight:bold;white-space:nowrap;">Unambiguous glycosites</div>
<div class="t b" style="left:7.6px;top:315.6px;font-size:14.8px;">C</div>
<div class="t k" style="left:195.5px;top:318.48px;font-size:10.3px;">Fibronectin O-glycosites</div>
<div class="r" style="left:91.38px;top:338.70px;width:11.36px;height:9.59px;background:#d862b2;"></div>
<div class="r" style="left:119.78px;top:338.70px;width:5.68px;height:9.59px;background:#d862b2;"></div>
<div class="r" style="left:153.86px;top:338.70px;width:5.68px;height:9.59px;background:#d862b2;"></div>
<div class="r" style="left:358.34px;top:338.70px;width:5.68px;height:9.59px;background:#d862b2;"></div>
<div class="r" style="left:381.06px;top:338.70px;width:22.72px;height:9.59px;background:#d862b2;"></div>
<div class="r" style="left:449.22px;top:338.70px;width:5.68px;height:9.59px;background:#d862b2;"></div>
<div class="r" style="left:97.06px;top:348.24px;width:11.36px;height:9.59px;background:#a870c8;"></div>
<div class="r" style="left:119.78px;top:348.24px;width:5.68px;height:9.59px;background:#a870c8;"></div>
<div class="r" style="left:182.26px;top:348.24px;width:5.68px;height:9.59px;background:#a870c8;"></div>
<div class="r" style="left:392.42px;top:348.24px;width:11.36px;height:9.59px;background:#a870c8;"></div>
<div class="r" style="left:85.70px;top:357.78px;width:22.72px;height:9.59px;background:#88c040;"></div>
<div class="r" style="left:119.78px;top:357.78px;width:11.36px;height:9.59px;background:#88c040;"></div>
<div class="r" style="left:159.54px;top:357.78px;width:5.68px;height:9.59px;background:#88c040;"></div>
<div class="r" style="left:182.26px;top:357.78px;width:5.68px;height:9.59px;background:#88c040;"></div>
<div class="r" style="left:233.38px;top:357.78px;width:5.68px;height:9.59px;background:#88c040;"></div>
<div class="r" style="left:256.10px;top:357.78px;width:34.08px;height:9.59px;background:#88c040;"></div>
<div class="r" style="left:358.34px;top:357.78px;width:45.44px;height:9.59px;background:#88c040;"></div>
<div class="r" style="left:409.46px;top:357.78px;width:5.68px;height:9.59px;background:#88c040;"></div>
<div class="r" style="left:420.82px;top:357.78px;width:5.68px;height:9.59px;background:#88c040;"></div>
<div class="r" style="left:437.86px;top:357.78px;width:5.68px;height:9.59px;background:#88c040;"></div>
<div class="r" style="left:460.58px;top:357.78px;width:5.68px;height:9.59px;background:#88c040;"></div>
<div class="r" style="left:471.94px;top:357.78px;width:11.36px;height:9.59px;background:#88c040;"></div>
<div class="r" style="left:91.38px;top:367.32px;width:22.72px;height:9.59px;background:#c8a818;"></div>
<div class="r" style="left:119.78px;top:367.32px;width:5.68px;height:9.59px;background:#c8a818;"></div>
<div class="r" style="left:131.14px;top:367.32px;width:22.72px;height:9.59px;background:#c8a818;"></div>
<div class="r" style="left:165.22px;top:367.32px;width:90.88px;height:9.59px;background:#c8a818;"></div>
<div class="r" style="left:278.82px;top:367.32px;width:5.68px;height:9.59px;background:#c8a818;"></div>
<div class="r" style="left:290.18px;top:367.32px;width:73.84px;height:9.59px;background:#c8a818;"></div>
<div class="r" style="left:381.06px;top:367.32px;width:22.72px;height:9.59px;background:#c8a818;"></div>
<div class="r" style="left:415.14px;top:367.32px;width:34.08px;height:9.59px;background:#c8a818;"></div>
<div class="r" style="left:454.90px;top:367.32px;width:11.36px;height:9.59px;background:#c8a818;"></div>
<div class="r" style="left:471.94px;top:367.32px;width:5.68px;height:9.59px;background:#c8a818;"></div>
<div class="r" style="left:91.38px;top:386.40px;width:11.36px;height:9.59px;background:#e0529c;"></div>
<div class="r" style="left:119.78px;top:386.40px;width:5.68px;height:9.59px;background:#e0529c;"></div>
<div class="r" style="left:91.38px;top:395.94px;width:11.36px;height:9.59px;background:#2e9a52;"></div>
<div class="r" style="left:91.38px;top:405.48px;width:11.36px;height:9.59px;background:#28a8e4;"></div>
<div class="r" style="left:244.74px;top:405.48px;width:11.36px;height:9.59px;background:#28a8e4;"></div>
<div class="r" style="left:392.42px;top:405.48px;width:11.36px;height:9.59px;background:#28a8e4;"></div>
<div class="r" style="left:449.22px;top:405.48px;width:17.04px;height:9.59px;background:#28a8e4;"></div>
<div class="r" style="left:91.38px;top:415.02px;width:17.04px;height:9.59px;background:#e88c20;"></div>
<div class="r" style="left:119.78px;top:415.02px;width:5.68px;height:9.59px;background:#e88c20;"></div>
<div class="r" style="left:381.06px;top:415.02px;width:28.40px;height:9.59px;background:#e88c20;"></div>
<div class="r" style="left:449.22px;top:415.02px;width:17.04px;height:9.59px;background:#e88c20;"></div>
<div class="r" style="left:91.38px;top:424.56px;width:22.72px;height:9.59px;background:#e06262;"></div>
<div class="r" style="left:119.78px;top:424.56px;width:5.68px;height:9.59px;background:#e06262;"></div>
<div class="r" style="left:204.98px;top:424.56px;width:5.68px;height:9.59px;background:#e06262;"></div>
<div class="r" style="left:278.82px;top:424.56px;width:5.68px;height:9.59px;background:#e06262;"></div>
<div class="r" style="left:381.06px;top:424.56px;width:28.40px;height:9.59px;background:#e06262;"></div>
<div class="r" style="left:91.38px;top:434.10px;width:34.08px;height:9.59px;background:#209a6c;"></div>
<div class="r" style="left:204.98px;top:434.10px;width:5.68px;height:9.59px;background:#209a6c;"></div>
<div class="r" style="left:278.82px;top:434.10px;width:5.68px;height:9.59px;background:#209a6c;"></div>
<div class="r" style="left:381.06px;top:434.10px;width:28.40px;height:9.59px;background:#209a6c;"></div>
<div class="r" style="left:454.90px;top:434.10px;width:11.36px;height:9.59px;background:#209a6c;"></div>
<div class="r" style="left:91.38px;top:443.64px;width:17.04px;height:9.59px;background:#28a4a6;"></div>
<div class="r" style="left:119.78px;top:443.64px;width:5.68px;height:9.59px;background:#28a4a6;"></div>
<div class="r" style="left:233.38px;top:443.64px;width:22.72px;height:9.59px;background:#28a4a6;"></div>
<div class="r" style="left:278.82px;top:443.64px;width:5.68px;height:9.59px;background:#28a4a6;"></div>
<div class="r" style="left:381.06px;top:443.64px;width:28.40px;height:9.59px;background:#28a4a6;"></div>
<div class="r" style="left:449.22px;top:443.64px;width:5.68px;height:9.59px;background:#28a4a6;"></div>
<div class="r" style="left:91.38px;top:453.18px;width:17.04px;height:9.59px;background:#6c88d0;"></div>
<div class="r" style="left:114.10px;top:453.18px;width:11.36px;height:9.59px;background:#6c88d0;"></div>
<div class="r" style="left:233.38px;top:453.18px;width:5.68px;height:9.59px;background:#6c88d0;"></div>
<div class="r" style="left:244.74px;top:453.18px;width:11.36px;height:9.59px;background:#6c88d0;"></div>
<div class="r" style="left:278.82px;top:453.18px;width:5.68px;height:9.59px;background:#6c88d0;"></div>
<div class="r" style="left:381.06px;top:453.18px;width:28.40px;height:9.59px;background:#6c88d0;"></div>
<div class="r" style="left:449.22px;top:453.18px;width:22.72px;height:9.59px;background:#6c88d0;"></div>
<div class="t" style="right:438.70px;top:338.47px;font-size:8.7px;line-height:10px;">platelet (10)</div>
<div class="t" style="right:438.70px;top:348.01px;font-size:8.7px;line-height:10px;">plasma (6)</div>
<div class="t" style="right:438.70px;top:357.55px;font-size:8.7px;line-height:10px;">huvec (29)</div>
<div class="t" style="right:438.70px;top:367.09px;font-size:8.7px;line-height:10px;">hepg2 (52)</div>
<div class="t" style="right:438.70px;top:386.17px;font-size:8.7px;line-height:10px;">t47d (3)</div>
<div class="t" style="right:438.70px;top:395.71px;font-size:8.7px;line-height:10px;">imr32 (2)</div>
<div class="t" style="right:438.70px;top:405.25px;font-size:8.7px;line-height:10px;">mkn45 (9)</div>
<div class="t" style="right:438.70px;top:414.79px;font-size:8.7px;line-height:10px;">hela (12)</div>
<div class="t" style="right:438.70px;top:424.33px;font-size:8.7px;line-height:10px;">hek293 (12)</div>
<div class="t" style="right:438.70px;top:433.87px;font-size:8.7px;line-height:10px;">mcf7 (15)</div>
<div class="t" style="right:438.70px;top:443.41px;font-size:8.7px;line-height:10px;">mda231 (15)</div>
<div class="t" style="right:438.70px;top:452.95px;font-size:8.7px;line-height:10px;">ovcar3 (18)</div>
<div class="r" style="left:84.60px;top:337.30px;width:1.30px;height:127.50px;background:#000;"></div>
<div class="r" style="left:84.50px;top:464.00px;width:399.50px;height:1.60px;background:#111;"></div>
<div class="r" style="left:87.94px;top:465.00px;width:1.20px;height:2.80px;background:#000;"></div>
<div class="t vl" style="left:88.54px;top:469.8px;font-size:6.7px;">46</div>
<div class="r" style="left:93.62px;top:465.00px;width:1.20px;height:2.80px;background:#000;"></div>
<div class="t vl" style="left:94.22px;top:469.8px;font-size:6.7px;">278</div>
<div class="r" style="left:99.30px;top:465.00px;width:1.20px;height:2.80px;background:#000;"></div>
<div class="t vl" style="left:99.90px;top:469.8px;font-size:6.7px;">279</div>
<div class="r" style="left:104.98px;top:465.00px;width:1.20px;height:2.80px;background:#000;"></div>
<div class="t vl" style="left:105.58px;top:469.8px;font-size:6.7px;">280</div>
<div class="r" style="left:110.66px;top:465.00px;width:1.20px;height:2.80px;background:#000;"></div>
<div class="t vl" style="left:111.26px;top:469.8px;font-size:6.7px;">283</div>
<div class="r" style="left:116.34px;top:465.00px;width:1.20px;height:2.80px;background:#000;"></div>
<div class="t vl" style="left:116.94px;top:469.8px;font-size:6.7px;">287</div>
<div class="r" style="left:122.02px;top:465.00px;width:1.20px;height:2.80px;background:#000;"></div>
<div class="t vl" style="left:122.62px;top:469.8px;font-size:6.7px;">294</div>
<div class="r" style="left:127.70px;top:465.00px;width:1.20px;height:2.80px;background:#000;"></div>
<div class="t vl" style="left:128.30px;top:469.8px;font-size:6.7px;">407</div>
<div class="r" style="left:133.38px;top:465.00px;width:1.20px;height:2.80px;background:#000;"></div>
<div class="t vl" style="left:133.98px;top:469.8px;font-size:6.7px;">412</div>
<div class="r" style="left:139.06px;top:465.00px;width:1.20px;height:2.80px;background:#000;"></div>
<div class="t vl" style="left:139.66px;top:469.8px;font-size:6.7px;">449</div>
<div class="r" style="left:144.74px;top:465.00px;width:1.20px;height:2.80px;background:#000;"></div>
<div class="t vl" style="left:145.34px;top:469.8px;font-size:6.7px;">604</div>
<div class="r" style="left:150.42px;top:465.00px;width:1.20px;height:2.80px;background:#000;"></div>
<div class="t vl" style="left:151.02px;top:469.8px;font-size:6.7px;">617</div>
<div class="r" style="left:156.10px;top:465.00px;width:1.20px;height:2.80px;background:#000;"></div>
<div class="t vl" style="left:156.70px;top:469.8px;font-size:6.7px;">630</div>
<div class="r" style="left:161.78px;top:465.00px;width:1.20px;height:2.80px;background:#000;"></div>
<div class="t vl" style="left:162.38px;top:469.8px;font-size:6.7px;">632</div>
<div class="r" style="left:167.46px;top:465.00px;width:1.20px;height:2.80px;background:#000;"></div>
<div class="t vl" style="left:168.06px;top:469.8px;font-size:6.7px;">700</div>
<div class="r" style="left:173.14px;top:465.00px;width:1.20px;height:2.80px;background:#000;"></div>
<div class="t vl" style="left:173.74px;top:469.8px;font-size:6.7px;">737</div>
<div class="r" style="left:178.82px;top:465.00px;width:1.20px;height:2.80px;background:#000;"></div>
<div class="t vl" style="left:179.42px;top:469.8px;font-size:6.7px;">796</div>
<div class="r" style="left:184.50px;top:465.00px;width:1.20px;height:2.80px;background:#000;"></div>
<div class="t vl" style="left:185.10px;top:469.8px;font-size:6.7px;">1007</div>
<div class="r" style="left:190.18px;top:465.00px;width:1.20px;height:2.80px;background:#000;"></div>
<div class="t vl" style="left:190.78px;top:469.8px;font-size:6.7px;">1122</div>
<div class="r" style="left:195.86px;top:465.00px;width:1.20px;height:2.80px;background:#000;"></div>
<div class="t vl" style="left:196.46px;top:469.8px;font-size:6.7px;">1132</div>
<div class="r" style="left:201.54px;top:465.00px;width:1.20px;height:2.80px;background:#000;"></div>
<div class="t vl" style="left:202.14px;top:469.8px;font-size:6.7px;">1138</div>
<div class="r" style="left:207.22px;top:465.00px;width:1.20px;height:2.80px;background:#000;"></div>
<div class="t vl" style="left:207.82px;top:469.8px;font-size:6.7px;">1276</div>
<div class="r" style="left:212.90px;top:465.00px;width:1.20px;height:2.80px;background:#000;"></div>
<div class="t vl" style="left:213.50px;top:469.8px;font-size:6.7px;">1281</div>
<div class="r" style="left:218.58px;top:465.00px;width:1.20px;height:2.80px;background:#000;"></div>
<div class="t vl" style="left:219.18px;top:469.8px;font-size:6.7px;">1291</div>
<div class="r" style="left:224.26px;top:465.00px;width:1.20px;height:2.80px;background:#000;"></div>
<div class="t vl" style="left:224.86px;top:469.8px;font-size:6.7px;">1309</div>
<div class="r" style="left:229.94px;top:465.00px;width:1.20px;height:2.80px;background:#000;"></div>
<div class="t vl" style="left:230.54px;top:469.8px;font-size:6.7px;">1330</div>
<div class="r" style="left:235.62px;top:465.00px;width:1.20px;height:2.80px;background:#000;"></div>
<div class="t vl" style="left:236.22px;top:469.8px;font-size:6.7px;">1395</div>
<div class="r" style="left:241.30px;top:465.00px;width:1.20px;height:2.80px;background:#000;"></div>
<div class="t vl" style="left:241.90px;top:469.8px;font-size:6.7px;">1402</div>
<div class="r" style="left:246.98px;top:465.00px;width:1.20px;height:2.80px;background:#000;"></div>
<div class="t vl" style="left:247.58px;top:469.8px;font-size:6.7px;">1433</div>
<div class="r" style="left:252.66px;top:465.00px;width:1.20px;height:2.80px;background:#000;"></div>
<div class="t vl" style="left:253.26px;top:469.8px;font-size:6.7px;">1545</div>
<div class="r" style="left:258.34px;top:465.00px;width:1.20px;height:2.80px;background:#000;"></div>
<div class="t vl" style="left:258.94px;top:469.8px;font-size:6.7px;">1547</div>
<div class="r" style="left:264.02px;top:465.00px;width:1.20px;height:2.80px;background:#000;"></div>
<div class="t vl" style="left:264.62px;top:469.8px;font-size:6.7px;">1559</div>
<div class="r" style="left:269.70px;top:465.00px;width:1.20px;height:2.80px;background:#000;"></div>
<div class="t vl" style="left:270.30px;top:469.8px;font-size:6.7px;">1567</div>
<div class="r" style="left:275.38px;top:465.00px;width:1.20px;height:2.80px;background:#000;"></div>
<div class="t vl" style="left:275.98px;top:469.8px;font-size:6.7px;">1570</div>
<div class="r" style="left:281.06px;top:465.00px;width:1.20px;height:2.80px;background:#000;"></div>
<div class="t vl" style="left:281.66px;top:469.8px;font-size:6.7px;">1585</div>
<div class="r" style="left:286.74px;top:465.00px;width:1.20px;height:2.80px;background:#000;"></div>
<div class="t vl" style="left:287.34px;top:469.8px;font-size:6.7px;">1626</div>
<div class="r" style="left:292.42px;top:465.00px;width:1.20px;height:2.80px;background:#000;"></div>
<div class="t vl" style="left:293.02px;top:469.8px;font-size:6.7px;">1630</div>
<div class="r" style="left:298.10px;top:465.00px;width:1.20px;height:2.80px;background:#000;"></div>
<div class="t vl" style="left:298.70px;top:469.8px;font-size:6.7px;">1641</div>
<div class="r" style="left:303.78px;top:465.00px;width:1.20px;height:2.80px;background:#000;"></div>
<div class="t vl" style="left:304.38px;top:469.8px;font-size:6.7px;">1721</div>
<div class="r" style="left:309.46px;top:465.00px;width:1.20px;height:2.80px;background:#000;"></div>
<div class="t vl" style="left:310.06px;top:469.8px;font-size:6.7px;">1791</div>
<div class="r" style="left:315.14px;top:465.00px;width:1.20px;height:2.80px;background:#000;"></div>
<div class="t vl" style="left:315.74px;top:469.8px;font-size:6.7px;">1825</div>
<div class="r" style="left:320.82px;top:465.00px;width:1.20px;height:2.80px;background:#000;"></div>
<div class="t vl" style="left:321.42px;top:469.8px;font-size:6.7px;">1832</div>
<div class="r" style="left:326.50px;top:465.00px;width:1.20px;height:2.80px;background:#000;"></div>
<div class="t vl" style="left:327.10px;top:469.8px;font-size:6.7px;">1861</div>
<div class="r" style="left:332.18px;top:465.00px;width:1.20px;height:2.80px;background:#000;"></div>
<div class="t vl" style="left:332.78px;top:469.8px;font-size:6.7px;">1873</div>
<div class="r" style="left:337.86px;top:465.00px;width:1.20px;height:2.80px;background:#000;"></div>
<div class="t vl" style="left:338.46px;top:469.8px;font-size:6.7px;">1914</div>
<div class="r" style="left:343.54px;top:465.00px;width:1.20px;height:2.80px;background:#000;"></div>
<div class="t vl" style="left:344.14px;top:469.8px;font-size:6.7px;">1972</div>
<div class="r" style="left:349.22px;top:465.00px;width:1.20px;height:2.80px;background:#000;"></div>
<div class="t vl" style="left:349.82px;top:469.8px;font-size:6.7px;">1990</div>
<div class="r" style="left:354.90px;top:465.00px;width:1.20px;height:2.80px;background:#000;"></div>
<div class="t vl" style="left:355.50px;top:469.8px;font-size:6.7px;">2016</div>
<div class="r" style="left:360.58px;top:465.00px;width:1.20px;height:2.80px;background:#000;"></div>
<div class="t vl" style="left:361.18px;top:469.8px;font-size:6.7px;">2020</div>
<div class="r" style="left:366.26px;top:465.00px;width:1.20px;height:2.80px;background:#000;"></div>
<div class="t vl" style="left:366.86px;top:469.8px;font-size:6.7px;">2050</div>
<div class="r" style="left:371.94px;top:465.00px;width:1.20px;height:2.80px;background:#000;"></div>
<div class="t vl" style="left:372.54px;top:469.8px;font-size:6.7px;">2061</div>
<div class="r" style="left:377.62px;top:465.00px;width:1.20px;height:2.80px;background:#000;"></div>
<div class="t vl" style="left:378.22px;top:469.8px;font-size:6.7px;">2064</div>
<div class="r" style="left:383.30px;top:465.00px;width:1.20px;height:2.80px;background:#000;"></div>
<div class="t vl" style="left:383.90px;top:469.8px;font-size:6.7px;">2065</div>
<div class="r" style="left:388.98px;top:465.00px;width:1.20px;height:2.80px;background:#000;"></div>
<div class="t vl" style="left:389.58px;top:469.8px;font-size:6.7px;">2070</div>
<div class="r" style="left:394.66px;top:465.00px;width:1.20px;height:2.80px;background:#000;"></div>
<div class="t vl" style="left:395.26px;top:469.8px;font-size:6.7px;">2076</div>
<div class="r" style="left:400.34px;top:465.00px;width:1.20px;height:2.80px;background:#000;"></div>
<div class="t vl" style="left:400.94px;top:469.8px;font-size:6.7px;">2103</div>
<div class="r" style="left:406.02px;top:465.00px;width:1.20px;height:2.80px;background:#000;"></div>
<div class="t vl" style="left:406.62px;top:469.8px;font-size:6.7px;">2109</div>
<div class="r" style="left:411.70px;top:465.00px;width:1.20px;height:2.80px;background:#000;"></div>
<div class="t vl" style="left:412.30px;top:469.8px;font-size:6.7px;">2163</div>
<div class="r" style="left:417.38px;top:465.00px;width:1.20px;height:2.80px;background:#000;"></div>
<div class="t vl" style="left:417.98px;top:469.8px;font-size:6.7px;">2204</div>
<div class="r" style="left:423.06px;top:465.00px;width:1.20px;height:2.80px;background:#000;"></div>
<div class="t vl" style="left:423.66px;top:469.8px;font-size:6.7px;">2241</div>
<div class="r" style="left:428.74px;top:465.00px;width:1.20px;height:2.80px;background:#000;"></div>
<div class="t vl" style="left:429.34px;top:469.8px;font-size:6.7px;">2245</div>
<div class="r" style="left:434.42px;top:465.00px;width:1.20px;height:2.80px;background:#000;"></div>
<div class="t vl" style="left:435.02px;top:469.8px;font-size:6.7px;">2246</div>
<div class="r" style="left:440.10px;top:465.00px;width:1.20px;height:2.80px;background:#000;"></div>
<div class="t vl" style="left:440.70px;top:469.8px;font-size:6.7px;">2248</div>
<div class="r" style="left:445.78px;top:465.00px;width:1.20px;height:2.80px;background:#000;"></div>
<div class="t vl" style="left:446.38px;top:469.8px;font-size:6.7px;">2290</div>
<div class="r" style="left:451.46px;top:465.00px;width:1.20px;height:2.80px;background:#000;"></div>
<div class="t vl" style="left:452.06px;top:469.8px;font-size:6.7px;">2301</div>
<div class="r" style="left:457.14px;top:465.00px;width:1.20px;height:2.80px;background:#000;"></div>
<div class="t vl" style="left:457.74px;top:469.8px;font-size:6.7px;">2311</div>
<div class="r" style="left:462.82px;top:465.00px;width:1.20px;height:2.80px;background:#000;"></div>
<div class="t vl" style="left:463.42px;top:469.8px;font-size:6.7px;">2320</div>
<div class="r" style="left:468.50px;top:465.00px;width:1.20px;height:2.80px;background:#000;"></div>
<div class="t vl" style="left:469.10px;top:469.8px;font-size:6.7px;">2354</div>
<div class="r" style="left:474.18px;top:465.00px;width:1.20px;height:2.80px;background:#000;"></div>
<div class="t vl" style="left:474.78px;top:469.8px;font-size:6.7px;">2360</div>
<div class="r" style="left:479.86px;top:465.00px;width:1.20px;height:2.80px;background:#000;"></div>
<div class="t vl" style="left:480.46px;top:469.8px;font-size:6.7px;">2363</div>
<div class="t" style="left:283.8px;top:496px;font-size:9.3px;transform:translate(-50%,-50%) scaleX(0.72);font-weight:bold;white-space:nowrap;">O-glycosites (a.a. position)</div>
<div class="t" style="left:22.3px;top:400.8px;font-size:9.8px;transform:translate(-50%,-50%) rotate(-90deg) scaleX(0.72);font-weight:bold;white-space:nowrap;">Sample</div>
<div class="t" style="left:98.8px;top:504.34px;font-size:8.7px;">n-term</div>
<div class="r" style="left:131.00px;top:508.10px;width:308.00px;height:1.20px;background:#000;"></div>
<svg style="position:absolute;left:435px;top:504px" width="10" height="9"><path d="M0.5,1 L9,4.6 L0.5,8.2 L2.6,4.6 Z" fill="#000"/></svg>
<div class="t" style="left:450px;top:504.25px;font-size:8.8px;">c-term</div>
<div class="t b" style="left:7.6px;top:524.3px;font-size:14.8px;">D</div>
<div class="t k" style="left:159.7px;top:549.67px;font-size:10.2px;">Cell-type dependent O-glycosylation</div>
<div class="t k" style="left:31.2px;top:593.69px;font-size:10.05px;">Identical</div>
<div class="t k" style="left:23px;top:665.28px;font-size:9.95px;">Conserved</div>
<div class="t k" style="left:22px;top:739.95px;font-size:10.1px;">Differential</div>
<div class="r" style="left:76.60px;top:575.50px;width:2.00px;height:41.50px;background:#1a1a1a;"></div>
<div class="r" style="left:76.60px;top:636.30px;width:2.00px;height:63.70px;background:#1a1a1a;"></div>
<div class="r" style="left:76.60px;top:715.00px;width:2.00px;height:58.80px;background:#1a1a1a;"></div>
<div class="t k" style="right:410.70px;top:583.60px;font-size:8.4px;line-height:10px;transform:scaleX(0.95);transform-origin:100% 50%;-webkit-text-stroke-width:0.15px;">XYLT2</div>
<div class="r" style="left:113.00px;top:587.00px;width:346.20px;height:2.00px;background:#c4c4c4;"></div>
<svg style="position:absolute;left:456.20px;top:584.20px" width="10" height="8"><path d="M1.2,0.7 L8.6,4 L1.2,7.3 L2.8,4 Z" fill="#a4a4a4"/></svg>
<div class="t k" style="right:410.70px;top:604.40px;font-size:8.4px;line-height:10px;transform:scaleX(0.95);transform-origin:100% 50%;-webkit-text-stroke-width:0.15px;">CTGF</div>
<div class="r" style="left:113.00px;top:608.00px;width:154.70px;height:2.00px;background:#c4c4c4;"></div>
<div class="t k" style="right:410.70px;top:638.90px;font-size:8.4px;line-height:10px;transform:scaleX(0.95);transform-origin:100% 50%;-webkit-text-stroke-width:0.15px;">MGT4B</div>
<div class="r" style="left:113.00px;top:642.00px;width:242.50px;height:2.00px;background:#c4c4c4;"></div>
<div class="t k" style="right:410.70px;top:660.00px;font-size:8.4px;line-height:10px;transform:scaleX(0.95);transform-origin:100% 50%;-webkit-text-stroke-width:0.15px;">FAM3C</div>
<div class="r" style="left:113.00px;top:664.00px;width:100.70px;height:2.00px;background:#c4c4c4;"></div>
<div class="t k" style="right:410.70px;top:680.90px;font-size:8.4px;line-height:10px;transform:scaleX(0.95);transform-origin:100% 50%;-webkit-text-stroke-width:0.15px;">A4</div>
<div class="r" style="left:113.00px;top:684.00px;width:340.60px;height:2.00px;background:#c4c4c4;"></div>
<svg style="position:absolute;left:450.60px;top:681.50px" width="10" height="8"><path d="M1.2,0.7 L8.6,4 L1.2,7.3 L2.8,4 Z" fill="#a4a4a4"/></svg>
<div class="t k" style="right:410.70px;top:717.40px;font-size:8.4px;line-height:10px;transform:scaleX(0.95);transform-origin:100% 50%;-webkit-text-stroke-width:0.15px;">TPST2</div>
<div class="r" style="left:113.00px;top:721.00px;width:166.40px;height:2.00px;background:#c4c4c4;"></div>
<div class="t k" style="right:410.70px;top:738.40px;font-size:8.4px;line-height:10px;transform:scaleX(0.95);transform-origin:100% 50%;-webkit-text-stroke-width:0.15px;">NID2</div>
<div class="r" style="left:113.00px;top:742.00px;width:348.50px;height:2.00px;background:#c4c4c4;"></div>
<svg style="position:absolute;left:458.50px;top:739.00px" width="10" height="8"><path d="M1.2,0.7 L8.6,4 L1.2,7.3 L2.8,4 Z" fill="#a4a4a4"/></svg>
<div class="t k" style="right:410.70px;top:759.60px;font-size:8.4px;line-height:10px;transform:scaleX(0.95);transform-origin:100% 50%;-webkit-text-stroke-width:0.15px;">TGON2</div>
<div class="r" style="left:113.00px;top:763.00px;width:212.80px;height:2.00px;background:#c4c4c4;"></div>
<div class="r" style="left:147.20px;top:581.00px;width:7.50px;height:7.50px;background:#2aa0a4;border:1.1px solid #111;box-sizing:border-box;"></div>
<div class="r" style="left:147.20px;top:587.90px;width:7.50px;height:7.50px;background:#e0706a;border:1.1px solid #111;box-sizing:border-box;"></div>
<div class="r" style="left:362.60px;top:581.00px;width:7.50px;height:7.50px;background:#2aa0a4;border:1.1px solid #111;box-sizing:border-box;"></div>
<div class="r" style="left:362.60px;top:587.90px;width:7.50px;height:7.50px;background:#e0706a;border:1.1px solid #111;box-sizing:border-box;"></div>
<div class="r" style="left:185.60px;top:601.80px;width:7.50px;height:7.50px;background:#2aa0a4;border:1.1px solid #111;box-sizing:border-box;"></div>
<div class="r" style="left:185.60px;top:608.70px;width:7.50px;height:7.50px;background:#e0706a;border:1.1px solid #111;box-sizing:border-box;"></div>
<div class="r" style="left:194.20px;top:601.80px;width:7.50px;height:7.50px;background:#2aa0a4;border:1.1px solid #111;box-sizing:border-box;"></div>
<div class="r" style="left:194.20px;top:608.70px;width:7.50px;height:7.50px;background:#e0706a;border:1.1px solid #111;box-sizing:border-box;"></div>
<div class="r" style="left:142.80px;top:636.30px;width:7.50px;height:7.50px;background:#2aa0a4;border:1.1px solid #111;box-sizing:border-box;"></div>
<div class="r" style="left:150.40px;top:636.30px;width:7.50px;height:7.50px;background:#2aa0a4;border:1.1px solid #111;box-sizing:border-box;"></div>
<div class="r" style="left:150.40px;top:643.20px;width:7.50px;height:7.50px;background:#e0706a;border:1.1px solid #111;box-sizing:border-box;"></div>
<div class="r" style="left:326.20px;top:636.30px;width:7.50px;height:7.50px;background:#2aa0a4;border:1.1px solid #111;box-sizing:border-box;"></div>
<div class="r" style="left:326.20px;top:643.20px;width:7.50px;height:7.50px;background:#e0706a;border:1.1px solid #111;box-sizing:border-box;"></div>
<div class="r" style="left:131.30px;top:657.40px;width:7.50px;height:7.50px;background:#2aa0a4;border:1.1px solid #111;box-sizing:border-box;"></div>
<div class="r" style="left:127.40px;top:664.30px;width:7.50px;height:7.50px;background:#e0706a;border:1.1px solid #111;box-sizing:border-box;"></div>
<div class="r" style="left:131.30px;top:664.30px;width:7.50px;height:7.50px;background:#e0706a;border:1.1px solid #111;box-sizing:border-box;"></div>
<div class="r" style="left:118.40px;top:678.30px;width:7.50px;height:7.50px;background:#2aa0a4;border:1.1px solid #111;box-sizing:border-box;"></div>
<div class="r" style="left:118.40px;top:685.20px;width:7.50px;height:7.50px;background:#e0706a;border:1.1px solid #111;box-sizing:border-box;"></div>
<div class="r" style="left:271.20px;top:685.20px;width:7.50px;height:7.50px;background:#e0706a;border:1.1px solid #111;box-sizing:border-box;"></div>
<div class="r" style="left:398.40px;top:678.30px;width:7.50px;height:7.50px;background:#2aa0a4;border:1.1px solid #111;box-sizing:border-box;"></div>
<div class="r" style="left:401.80px;top:678.30px;width:7.50px;height:7.50px;background:#2aa0a4;border:1.1px solid #111;box-sizing:border-box;"></div>
<div class="r" style="left:398.40px;top:685.20px;width:7.50px;height:7.50px;background:#e0706a;border:1.1px solid #111;box-sizing:border-box;"></div>
<div class="r" style="left:401.00px;top:685.20px;width:7.50px;height:7.50px;background:#e0706a;border:1.1px solid #111;box-sizing:border-box;"></div>
<div class="r" style="left:404.60px;top:685.20px;width:7.50px;height:7.50px;background:#e0706a;border:1.1px solid #111;box-sizing:border-box;"></div>
<div class="r" style="left:134.20px;top:721.70px;width:7.50px;height:7.50px;background:#e0706a;border:1.1px solid #111;box-sizing:border-box;"></div>
<div class="r" style="left:235.40px;top:721.70px;width:7.50px;height:7.50px;background:#e0706a;border:1.1px solid #111;box-sizing:border-box;"></div>
<div class="r" style="left:266.30px;top:714.80px;width:7.50px;height:7.50px;background:#2aa0a4;border:1.1px solid #111;box-sizing:border-box;"></div>
<div class="r" style="left:266.30px;top:721.70px;width:7.50px;height:7.50px;background:#e0706a;border:1.1px solid #111;box-sizing:border-box;"></div>
<div class="r" style="left:268.50px;top:735.80px;width:7.50px;height:7.50px;background:#2aa0a4;border:1.1px solid #111;box-sizing:border-box;"></div>
<div class="r" style="left:272.80px;top:735.80px;width:7.50px;height:7.50px;background:#2aa0a4;border:1.1px solid #111;box-sizing:border-box;"></div>
<div class="r" style="left:283.20px;top:735.80px;width:7.50px;height:7.50px;background:#2aa0a4;border:1.1px solid #111;box-sizing:border-box;"></div>
<div class="r" style="left:311.00px;top:735.80px;width:7.50px;height:7.50px;background:#2aa0a4;border:1.1px solid #111;box-sizing:border-box;"></div>
<div class="r" style="left:311.00px;top:742.70px;width:7.50px;height:7.50px;background:#e0706a;border:1.1px solid #111;box-sizing:border-box;"></div>
<div class="r" style="left:119.20px;top:763.90px;width:7.50px;height:7.50px;background:#e0706a;border:1.1px solid #111;box-sizing:border-box;"></div>
<div class="r" style="left:133.10px;top:763.90px;width:7.50px;height:7.50px;background:#e0706a;border:1.1px solid #111;box-sizing:border-box;"></div>
<div class="r" style="left:136.20px;top:757.00px;width:7.50px;height:7.50px;background:#2aa0a4;border:1.1px solid #111;box-sizing:border-box;"></div>
<div class="r" style="left:143.00px;top:757.00px;width:7.50px;height:7.50px;background:#2aa0a4;border:1.1px solid #111;box-sizing:border-box;"></div>
<div class="r" style="left:167.70px;top:757.00px;width:7.50px;height:7.50px;background:#2aa0a4;border:1.1px solid #111;box-sizing:border-box;"></div>
<div class="r" style="left:174.30px;top:757.00px;width:7.50px;height:7.50px;background:#2aa0a4;border:1.1px solid #111;box-sizing:border-box;"></div>
<div class="r" style="left:167.70px;top:763.90px;width:7.50px;height:7.50px;background:#e0706a;border:1.1px solid #111;box-sizing:border-box;"></div>
<div class="r" style="left:170.80px;top:763.90px;width:7.50px;height:7.50px;background:#e0706a;border:1.1px solid #111;box-sizing:border-box;"></div>
<div class="r" style="left:174.30px;top:763.90px;width:7.50px;height:7.50px;background:#e0706a;border:1.1px solid #111;box-sizing:border-box;"></div>
<div class="r" style="left:186.50px;top:757.00px;width:7.50px;height:7.50px;background:#2aa0a4;border:1.1px solid #111;box-sizing:border-box;"></div>
<div class="r" style="left:198.20px;top:757.00px;width:7.50px;height:7.50px;background:#2aa0a4;border:1.1px solid #111;box-sizing:border-box;"></div>
<div class="r" style="left:186.50px;top:763.90px;width:7.50px;height:7.50px;background:#e0706a;border:1.1px solid #111;box-sizing:border-box;"></div>
<div class="r" style="left:192.50px;top:763.90px;width:7.50px;height:7.50px;background:#e0706a;border:1.1px solid #111;box-sizing:border-box;"></div>
<div class="r" style="left:198.20px;top:763.90px;width:7.50px;height:7.50px;background:#e0706a;border:1.1px solid #111;box-sizing:border-box;"></div>
<div class="r" style="left:213.50px;top:757.00px;width:7.50px;height:7.50px;background:#2aa0a4;border:1.1px solid #111;box-sizing:border-box;"></div>
<div class="r" style="left:217.50px;top:757.00px;width:7.50px;height:7.50px;background:#2aa0a4;border:1.1px solid #111;box-sizing:border-box;"></div>
<div class="r" style="left:213.50px;top:763.90px;width:7.50px;height:7.50px;background:#e0706a;border:1.1px solid #111;box-sizing:border-box;"></div>
<div class="r" style="left:217.50px;top:763.90px;width:7.50px;height:7.50px;background:#e0706a;border:1.1px solid #111;box-sizing:border-box;"></div>
<div class="r" style="left:226.70px;top:757.00px;width:7.50px;height:7.50px;background:#2aa0a4;border:1.1px solid #111;box-sizing:border-box;"></div>
<div class="r" style="left:226.70px;top:763.90px;width:7.50px;height:7.50px;background:#e0706a;border:1.1px solid #111;box-sizing:border-box;"></div>
<div class="r" style="left:237.00px;top:757.00px;width:7.50px;height:7.50px;background:#2aa0a4;border:1.1px solid #111;box-sizing:border-box;"></div>
<div class="r" style="left:249.60px;top:757.00px;width:7.50px;height:7.50px;background:#2aa0a4;border:1.1px solid #111;box-sizing:border-box;"></div>
<div class="r" style="left:263.40px;top:757.00px;width:7.50px;height:7.50px;background:#2aa0a4;border:1.1px solid #111;box-sizing:border-box;"></div>
<div class="r" style="left:395.70px;top:617.00px;width:12.50px;height:12.30px;background:#df6e66;"></div>
<div class="r" style="left:395.70px;top:634.20px;width:12.50px;height:12.30px;background:#2aa2a6;"></div>
<div class="t" style="left:413px;top:619.70px;font-size:7.8px;">huvec</div>
<div class="t" style="left:413px;top:636.51px;font-size:7.9px;">platelet</div>
<div id="frame"></div><div class="r" style="left:518px;top:0;width:1px;height:782px;background:#888;"></div>
</div></body></html>
